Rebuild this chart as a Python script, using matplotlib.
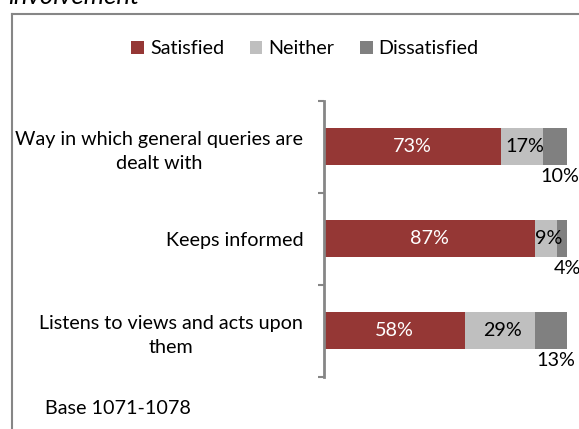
import matplotlib
matplotlib.use("Agg")
import matplotlib.pyplot as plt
from matplotlib.lines import Line2D

### Satisfaction with how enquiries are handled
categories = ["Way in which general queries are\ndealt with",
              "Keeps informed",
              "Listens to views and acts upon\nthem"]
satisfied = [73, 87, 58]
neither = [17, 9, 29]
dissatisfied = [10, 4, 13]
series_names = ["Satisfied", "Neither", "Dissatisfied"]
colours = ["#953735", "#BFBFBF", "#808080"]
base_note = "Base 1071-1078"
heading = "involvement"

plt.rcParams['font.family'] = ['Lato', 'DejaVu Sans']
fs = 14.2

W, H = 579, 429
fig = plt.figure(figsize=(W / 100, H / 100), dpi=100)
ax = fig.add_axes([324 / W, 1 - 377 / H, (567 - 324) / W, (377 - 100.5) / H])

y = list(range(len(categories)))
left_n = [s for s in satisfied]
left_d = [s + n for s, n in zip(satisfied, neither)]

b1 = ax.barh(y, satisfied, height=0.4, color=colours[0], label=series_names[0])
b2 = ax.barh(y, neither, left=left_n, height=0.4, color=colours[1], label=series_names[1])
b3 = ax.barh(y, dissatisfied, left=left_d, height=0.4, color=colours[2], label=series_names[2])

ax.set_xlim(0, 100)
ax.set_ylim(2.5, -0.5)

### value labels inside the first two segments
for i in y:
    ax.text(satisfied[i] / 2, i, "%d%%" % satisfied[i], color="white",
            ha="center", va="center", fontsize=fs)
    ax.annotate("%d%%" % neither[i], xy=(left_n[i] + neither[i] / 2, i),
                xytext=(2, 0), textcoords="offset points", ha="center", va="center",
                fontsize=fs, color="black")
    ### dissatisfied label hangs under the end of the bar
    ax.annotate("%d%%" % dissatisfied[i], xy=(left_d[i] + dissatisfied[i] / 2, i + 0.2),
                xytext=(3.5, -8), textcoords="offset points", ha="center", va="center",
                fontsize=fs, color="black", annotation_clip=False)

### axis: only the left spine with bracket ticks between categories
for side in ["top", "right", "bottom"]:
    ax.spines[side].set_visible(False)
ax.spines["left"].set_color("#868686")
ax.spines["left"].set_linewidth(2)
ax.set_xticks([])
ax.set_yticks([-0.5, 0.5, 1.5, 2.5])
ax.set_yticklabels([])
ax.tick_params(axis="y", which="major", length=4.5, width=1.5, color="#868686")
ax.set_yticks(y, minor=True)
ax.set_yticklabels(categories, minor=True, fontsize=fs)
ax.tick_params(axis="y", which="minor", length=0, pad=15)
for lab in ax.get_yticklabels(minor=True):
    lab.set_multialignment("center")
    lab.set_linespacing(1.5)

fig.legend(handles=[b1, b2, b3], loc="center", bbox_to_anchor=(305 / W, 1 - 49 / H),
           ncol=3, frameon=False, fontsize=fs, handlelength=0.65, handleheight=0.65,
           handletextpad=0.3, columnspacing=1.3)

fig.text(45 / W, 1 - 409 / H, base_note, fontsize=fs, va="center", ha="left")
fig.text(8 / W, 1 - 4 / H, heading, fontsize=18.5, style="italic", va="baseline", ha="left")

### outer frame, runs off the right and bottom edges
fig.add_artist(Line2D([12 / W, 12 / W], [1 - 14 / H, -0.1], color="#868686", lw=1.5))
fig.add_artist(Line2D([12 / W, 1.1], [1 - 14 / H, 1 - 14 / H], color="#868686", lw=1.5))

fig.savefig("out.png", dpi=100)
